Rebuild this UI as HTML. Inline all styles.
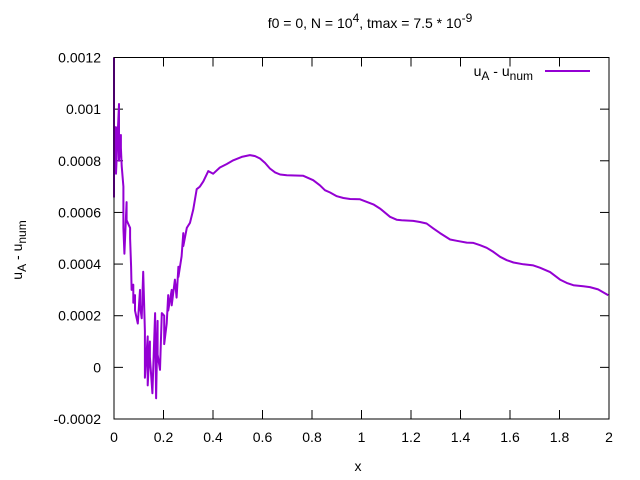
<!DOCTYPE html>
<html><head><meta charset="utf-8"><style>
body{margin:0;background:#fff;}
svg{display:block;font-family:"Liberation Sans",sans-serif;}
</style></head><body>
<svg id="chart" width="640" height="480">
<rect width="640" height="480" fill="#fff"/>
<text x="370" y="28" text-anchor="middle" font-size="14">f0 = 0, N = 10<tspan dy="-6" font-size="12">4</tspan><tspan dy="6">, tmax = 7.5 * 10</tspan><tspan dy="-6" font-size="12">-9</tspan></text>
<g id="ticks"></g>
<path id="series" fill="none" stroke="#9400d3" stroke-width="2" stroke-linejoin="round"/>
<rect x="114" y="57.5" width="495" height="361.5" fill="none" stroke="#000" stroke-width="1"/>
<text x="358" y="471" text-anchor="middle" font-size="14">x</text>
<text transform="translate(22,250) rotate(-90)" text-anchor="middle" font-size="14">u<tspan dy="4" font-size="12">A</tspan><tspan dy="-4"> - u</tspan><tspan dy="4" font-size="12">num</tspan></text>
<g>
<text x="533" y="76" text-anchor="end" font-size="14">u<tspan dy="4" font-size="12">A</tspan><tspan dy="-4"> - u</tspan><tspan dy="4" font-size="12">num</tspan></text>
<line x1="545" y1="71" x2="590" y2="71" stroke="#9400d3" stroke-width="2"/>
</g>
</svg>
<script>
const xTicks=[0,0.2,0.4,0.6,0.8,1,1.2,1.4,1.6,1.8,2];
const xTickLabels=["0","0.2","0.4","0.6","0.8","1","1.2","1.4","1.6","1.8","2"];
const yTicks=[-0.0002,0,0.0002,0.0004,0.0006,0.0008,0.001,0.0012];
const yTickLabels=["-0.0002","0","0.0002","0.0004","0.0006","0.0008","0.001","0.0012"];
const xs=[0,0,0,0.008,0.008,0.02,0.02,0.028,0.028,0.031,0.038,0.038,0.042,0.051,0.051,0.065,0.065,0.069,0.071,0.078,0.078,0.085,0.085,0.096,0.105,0.105,0.112,0.118,0.125,0.125,0.136,0.136,0.145,0.145,0.155,0.166,0.170,0.176,0.176,0.186,0.193,0.203,0.203,0.213,0.219,0.219,0.233,0.233,0.246,0.253,0.260,0.260,0.273,0.280,0.280,0.294,0.307,0.320,0.334,0.347,0.361,0.381,0.401,0.428,0.455,0.482,0.516,0.549,0.570,0.590,0.610,0.630,0.651,0.671,0.698,0.765,0.805,0.832,0.852,0.873,0.900,0.927,0.954,0.994,1.048,1.075,1.115,1.142,1.162,1.209,1.236,1.263,1.290,1.317,1.358,1.385,1.425,1.452,1.479,1.506,1.533,1.560,1.587,1.614,1.654,1.694,1.721,1.762,1.802,1.829,1.856,1.896,1.923,1.956,1.997];
const ys=[0.00120,0.00066,0.00093,0.00093,0.00075,0.00102,0.00080,0.00090,0.00085,0.00078,0.00070,0.00054,0.00044,0.00064,0.00057,0.00054,0.00050,0.00039,0.00030,0.00032,0.00025,0.00028,0.00022,0.00017,0.00030,0.00024,0.00019,0.00037,0.00014,-0.00004,0.00012,-0.00007,0.00010,0.00004,-0.00010,0.00021,-0.00012,0.00018,0.00005,-0.00001,0.00021,0.00020,0.00009,0.00017,0.00028,0.00022,0.00030,0.00024,0.00034,0.00027,0.00039,0.00035,0.00043,0.00052,0.00047,0.00054,0.00056,0.00061,0.00069,0.00070,0.00072,0.00076,0.00075,0.000774,0.000787,0.000802,0.000815,0.000822,0.000818,0.000809,0.000792,0.00077,0.000755,0.000747,0.000744,0.000742,0.000725,0.000705,0.000686,0.000677,0.000663,0.000656,0.000652,0.000651,0.000631,0.000615,0.000583,0.000572,0.00057,0.000567,0.000563,0.000557,0.000538,0.00052,0.000495,0.00049,0.000483,0.000482,0.000473,0.000463,0.000447,0.000428,0.000415,0.000406,0.000399,0.000395,0.000386,0.000369,0.00034,0.000327,0.000318,0.000314,0.000311,0.000302,0.000279];
const X=v=>114+v/2*495;
const Y=v=>419-(v+0.0002)/0.0014*361.5;
const NS="http://www.w3.org/2000/svg";
const g=document.getElementById('ticks');
function mk(t,a){const e=document.createElementNS(NS,t);for(const k in a)e.setAttribute(k,a[k]);return e;}
xTicks.forEach((v,i)=>{
  const x=X(v);
  const t1=mk('line',{x1:x,y1:419,x2:x,y2:410,stroke:'#000'});
  
  
  g.appendChild(t1);
  const t2=mk('line',{x1:x,y1:57.5,x2:x,y2:66.5,stroke:'#000'});
  
  
  g.appendChild(t2);
  const l=mk('text',{x:x,y:442,'text-anchor':'middle','font-size':14});
  l.textContent=xTickLabels[i];
  
  
  g.appendChild(l);
});
yTicks.forEach((v,i)=>{
  const y=Y(v);
  const t1=mk('line',{x1:114,y1:y,x2:123,y2:y,stroke:'#000'});
  
  
  g.appendChild(t1);
  const t2=mk('line',{x1:609,y1:y,x2:600,y2:y,stroke:'#000'});
  
  
  g.appendChild(t2);
  const l=mk('text',{x:101,y:y+5,'text-anchor':'end','font-size':14});
  l.textContent=yTickLabels[i];
  
  
  g.appendChild(l);
});
document.getElementById('series').setAttribute('d',xs.map((v,i)=>(i?'L':'M')+X(v).toFixed(1)+' '+Y(ys[i]).toFixed(1)).join(' '));
</script>
</body></html>
